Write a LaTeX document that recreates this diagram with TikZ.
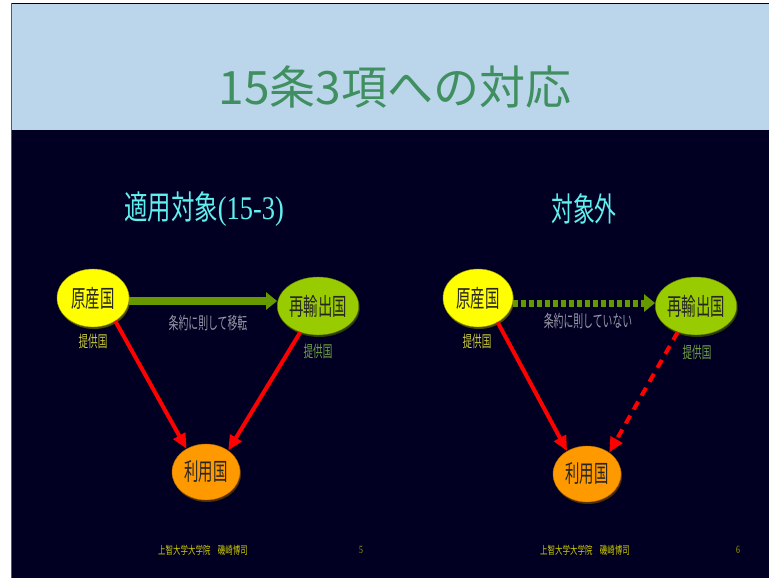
\documentclass[tikz,border=0pt]{standalone}
\usepackage{fontspec}
\usepackage{graphicx}
\setmainfont{Noto Sans CJK JP}
\newfontfamily\lser{Liberation Serif}
\usetikzlibrary{shapes.geometric,arrows.meta}
\definecolor{bgdark}{RGB}{2,0,34}
\definecolor{hdr}{RGB}{187,214,234}
\definecolor{titlegreen}{RGB}{64,143,96}
\definecolor{headcyan}{RGB}{96,240,240}
\definecolor{nyellow}{RGB}{255,255,0}
\definecolor{ngreen}{RGB}{153,204,0}
\definecolor{norange}{RGB}{255,153,0}
\definecolor{agreen}{RGB}{102,153,0}
\definecolor{lblgray}{RGB}{150,150,165}
\definecolor{provy}{RGB}{200,200,60}
\definecolor{provg}{RGB}{110,160,70}
\definecolor{footy}{RGB}{204,204,0}
\newcommand{\sq}[2]{\scalebox{#1}[1]{#2}}
\tikzset{
  country/.style={ellipse, inner sep=0pt, minimum width=72pt, minimum height=58pt,
    font=\fontsize{24}{24}\selectfont, text=black!85,
    preaction={fill=black!70!#1, transform canvas={xshift=1pt,yshift=-2pt}}},
  provider/.style={font=\fontsize{16}{16}\selectfont},
  arrlbl/.style={font=\fontsize{17}{17}\selectfont, text=lblgray},
  heading/.style={font=\fontsize{33}{33}\selectfont, text=headcyan},
  footer/.style={font=\fontsize{11}{11}\selectfont, text=footy},
  redarrow/.style={draw=red, line width=4pt, -{Triangle[length=15pt,width=13pt]}},
  greenarrow/.style={draw=agreen, line width=8pt, -{Triangle[length=11pt,width=17pt]}},
}
\begin{document}
\begin{tikzpicture}[x=1pt,y=-1pt]
\useasboundingbox (0,0) rectangle (769,578);
\fill[white] (0,0) rectangle (769,578);
\fill[bgdark] (11,4) rectangle (769,578);
\fill[hdr] (11,4) rectangle (769,130);
\draw[black, line width=1.3pt] (11,3.6) -- (769,3.6);
\draw[black!65, line width=1.3pt] (11.6,3) -- (11.6,578);

\node[text=titlegreen, font=\fontsize{46}{46}\selectfont] (title) at (395,87) {15条3項への対応};

% left diagram
\node[heading] (hl) at (204,209) {\sq{0.71}{適用対象}\sq{0.8}{\lser (15-3)}};
\node[country=nyellow, fill=nyellow, draw=black!40!nyellow, thin] (a) at (93,298) {\sq{0.6}{原産国}};
\node[country=ngreen, fill=ngreen, draw=black!40!ngreen, thin] (b) at (318,306) {\sq{0.6}{再輸出国}};
\node[country=norange, fill=norange, draw=black!30!norange, thin, minimum width=68pt, minimum height=56pt] (c) at (206,472) {\sq{0.6}{利用国}};
\node[provider, text=provy] (pa) at (93,341) {\sq{0.6}{提供国}};
\node[provider, text=provg] (pb) at (318,351) {\sq{0.6}{提供国}};
\draw[greenarrow] ([yshift=-3pt]a.east) -- ([yshift=-3pt]a.east -| b.west);
\node[arrlbl] (la) at (208,323) {\sq{0.58}{条約に則して移転}};
\draw[redarrow] (a.-46) -- (c.130);
\draw[redarrow] (b.-124) -- (c.44);

% right diagram
\node[heading] (hr) at (584,209) {\sq{0.66}{対象外}};
\node[country=nyellow, fill=nyellow, draw=black!40!nyellow, thin, minimum width=70pt] (a2) at (478,298) {\sq{0.6}{原産国}};
\node[country=ngreen, fill=ngreen, draw=black!40!ngreen, thin, minimum width=70pt] (b2) at (696,306) {\sq{0.6}{再輸出国}};
\node[country=norange, fill=norange, draw=black!30!norange, thin, minimum width=68pt, minimum height=56pt] (c2) at (587,474) {\sq{0.6}{利用国}};
\node[provider, text=provy] (pa2) at (477,341) {\sq{0.6}{提供国}};
\node[provider, text=provg] (pb2) at (697,352) {\sq{0.6}{提供国}};
\draw[greenarrow, line width=7pt, dash pattern=on 5pt off 3pt] ([yshift=-5pt]a2.east) -- ([yshift=-5pt]a2.east -| b2.west);
\node[arrlbl] (lb) at (588,321) {\sq{0.58}{条約に則していない}};
\draw[redarrow] (a2.-51) -- (c2.131);
\draw[redarrow, dash pattern=on 9pt off 7pt] (b2.-125) -- (c2.44);

% footers
\node[footer] (f1) at (203,550) {\sq{0.68}{上智大学大学院　磯崎博司}};
\node[footer, text=footy!80!black] (n1) at (361,550) {\sq{0.7}{\lser 5}};
\node[footer] (f2) at (585,550) {\sq{0.68}{上智大学大学院　磯崎博司}};
\node[footer, text=footy!80!black] (n2) at (738,550) {\sq{0.7}{\lser 6}};
\end{tikzpicture}
\end{document}
